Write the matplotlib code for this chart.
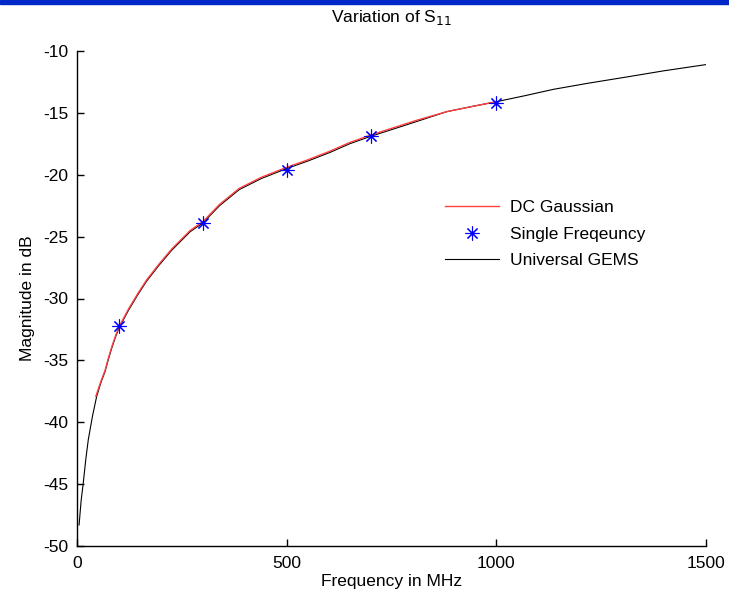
import matplotlib.pyplot as plt
from matplotlib.patches import Rectangle

plt.rcParams["font.family"] = ["Liberation Sans", "DejaVu Sans"]
plt.rcParams["axes.unicode_minus"] = False

# Universal GEMS (black)
gems_freq = [5, 10, 15, 21, 27, 37, 47, 57, 67, 75, 83, 92, 100, 122, 145, 166, 196,
             226, 270, 300, 340, 387, 440, 500, 550, 603, 650, 700, 746, 810, 882,
             940, 1000, 1070, 1136, 1220, 1311, 1400, 1500]
gems_db = [-48.3, -46.3, -44.9, -43.0, -41.4, -39.5, -37.9, -36.8, -35.9, -34.9, -34.0,
           -33.1, -32.4, -31.0, -29.7, -28.6, -27.3, -26.1, -24.6, -23.9, -22.5, -21.2,
           -20.3, -19.5, -18.9, -18.2, -17.5, -16.9, -16.4, -15.7, -14.9, -14.5, -14.1,
           -13.6, -13.1, -12.6, -12.1, -11.6, -11.1]

# DC Gaussian (red)
dc_freq = [45, 57, 67, 75, 83, 92, 100, 122, 145, 166, 196, 226, 270, 300, 340, 387,
           440, 500, 550, 603, 650, 700, 746, 810, 882, 940, 1000]
dc_db = [-37.9, -36.7, -35.8, -34.8, -33.9, -33.0, -32.3, -30.9, -29.6, -28.5, -27.2,
         -26.0, -24.5, -23.8, -22.4, -21.1, -20.2, -19.4, -18.8, -18.1, -17.4, -16.8,
         -16.3, -15.6, -14.9, -14.5, -14.1]

# Single frequency (blue asterisks)
single_freq = [100, 300, 500, 700, 1000]
single_db = [-32.2, -23.9, -19.6, -16.9, -14.2]

fig = plt.figure(figsize=(7.29, 5.97), dpi=100)
fig.patches.append(Rectangle((0, 0.9935), 1, 0.0065, transform=fig.transFigure,
                             color="#0028c8", zorder=0))
ax = fig.add_axes([0.1056, 0.0854, 0.8628, 0.8292])

ax.plot(dc_freq, dc_db, color="#ff4040", lw=1.0, label="DC Gaussian", zorder=3)
ax.plot(single_freq, single_db, linestyle="none", marker=(8, 2, 0), markersize=10,
        markeredgewidth=0.8, color="#0000ff", label="Single Freqeuncy", zorder=4)
ax.plot(gems_freq, gems_db, color="black", lw=0.8, label="Universal GEMS", zorder=2)

ax.set_xlim(0, 1500)
ax.set_ylim(-50, -10)
ax.set_xticks([0, 500, 1000, 1500])
ax.set_yticks(range(-50, -9, 5))
ax.tick_params(direction="in", length=5, width=1, labelsize=12.5)
ax.tick_params(axis="x", pad=7)
ax.tick_params(axis="y", pad=6)
for side in ["top", "right"]:
    ax.spines[side].set_visible(False)
for side in ["left", "bottom"]:
    ax.spines[side].set_linewidth(1.0)

ax.set_xlabel("Frequency in MHz", fontsize=12.5, labelpad=2)
ax.set_ylabel("Magnitude in dB", fontsize=12.5, labelpad=6)
ax.set_title("Variation of S$_{11}$", fontsize=12.5, pad=21)

ax.legend(loc="center left", bbox_to_anchor=(0.561, 0.63), frameon=False,
          fontsize=12.5, handlelength=3.1, handletextpad=0.6, labelspacing=0.65)

fig.savefig("out.png", dpi=100)
